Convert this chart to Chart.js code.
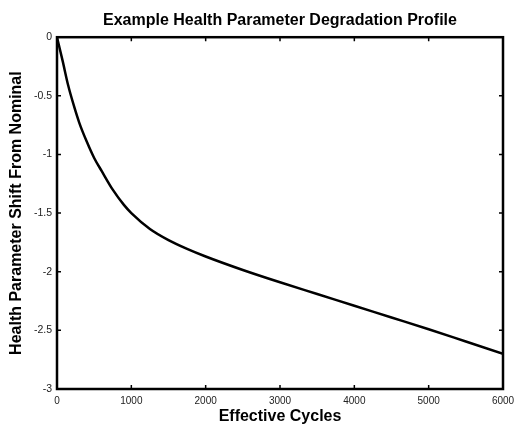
<!DOCTYPE html>
<html>
<head>
<meta charset="utf-8">
<script src="https://cdn.jsdelivr.net/npm/chart.js@4"></script>
<style>
  html, body { margin: 0; padding: 0; background: #fff; }
  #wrap { width: 517px; height: 426px; position: relative; }
</style>
</head>
<body>
<div id="wrap"><canvas id="c" width="517" height="426"></canvas></div>
<script>
const chartTitle = "Example Health Parameter Degradation Profile";
const xAxisTitle = "Effective Cycles";
const yAxisTitle = "Health Parameter Shift From Nominal";
const xTicks = [0, 1000, 2000, 3000, 4000, 5000, 6000];
const yTicks = [0, -0.5, -1, -1.5, -2, -2.5, -3];
const cycles = [0, 75, 150, 225, 300, 400, 500, 600, 750, 900, 1000, 1250, 1500, 1750, 2000, 2500, 3000, 3500, 4000, 4500, 5000, 5500, 6000];
const shift  = [0, -0.20, -0.41, -0.58, -0.73, -0.89, -1.03, -1.14, -1.30, -1.43, -1.50, -1.635, -1.73, -1.805, -1.87, -1.985, -2.09, -2.19, -2.29, -2.39, -2.49, -2.595, -2.70];

const points = cycles.map((c, i) => ({ x: c, y: shift[i] }));
const FONT = "Arial, 'Liberation Sans', Helvetica, sans-serif";

const boxPlugin = {
  id: 'boxTicks',
  afterDatasetsDraw(chart) {
    const { ctx, chartArea: a, scales } = chart;
    const xs = scales.x, ys = scales.y;
    const len = 4;
    ctx.save();
    ctx.strokeStyle = '#000';
    ctx.lineWidth = 1.5;
    ctx.beginPath();
    xTicks.forEach(v => {
      const px = xs.getPixelForValue(v);
      ctx.moveTo(px, a.bottom); ctx.lineTo(px, a.bottom - len);
      ctx.moveTo(px, a.top); ctx.lineTo(px, a.top + len);
    });
    yTicks.forEach(v => {
      const py = ys.getPixelForValue(v);
      ctx.moveTo(a.left, py); ctx.lineTo(a.left + len, py);
      ctx.moveTo(a.right, py); ctx.lineTo(a.right - len, py);
    });
    ctx.stroke();
    ctx.lineWidth = 2.5;
    ctx.strokeRect(a.left, a.top, a.right - a.left, a.bottom - a.top);
    ctx.restore();
  }
};

new Chart(document.getElementById('c'), {
  type: 'scatter',
  data: {
    datasets: [{
      data: points,
      showLine: true,
      borderColor: '#000',
      borderWidth: 2.5,
      pointRadius: 0,
      cubicInterpolationMode: 'monotone',
      fill: false
    }]
  },
  options: {
    responsive: false,
    animation: false,
    layout: { padding: { left: 0, right: 14, top: 0, bottom: 0 } },
    plugins: {
      legend: { display: false },
      tooltip: { enabled: false },
      title: {
        display: true,
        text: chartTitle,
        fullSize: false,
        color: '#000',
        font: { family: FONT, size: 16, weight: 'bold' },
        padding: { top: 11, bottom: 7 }
      }
    },
    scales: {
      x: {
        type: 'linear',
        min: 0, max: 6000,
        afterBuildTicks(s) { s.ticks = xTicks.map(v => ({ value: v })); },
        afterFit(s) { s.height = 37; s.paddingLeft = 0; s.paddingRight = 0; },
        grid: { display: false, drawTicks: false },
        border: { display: false },
        ticks: { color: '#222', padding: 6, maxRotation: 0, autoSkip: false, font: { family: FONT, size: 10 },
                 callback: v => String(v) },
        title: { display: true, text: xAxisTitle, color: '#000', font: { family: FONT, size: 16, weight: 'bold' }, padding: { top: 0, bottom: 0 } }
      },
      y: {
        type: 'linear',
        min: -3, max: 0,
        afterBuildTicks(s) { s.ticks = yTicks.map(v => ({ value: v })); },
        afterFit(s) { s.width = 57; s.paddingTop = 0; s.paddingBottom = 0; },
        grid: { display: false, drawTicks: false },
        border: { display: false },
        ticks: { color: '#222', padding: 5, autoSkip: false, font: { family: FONT, size: 10.5 },
                 callback: v => String(v) },
        title: { display: true, text: yAxisTitle, color: '#000', font: { family: FONT, size: 16, weight: 'bold' }, padding: { top: 7, bottom: 0 } }
      }
    }
  },
  plugins: [boxPlugin]
});
</script>
</body>
</html>
